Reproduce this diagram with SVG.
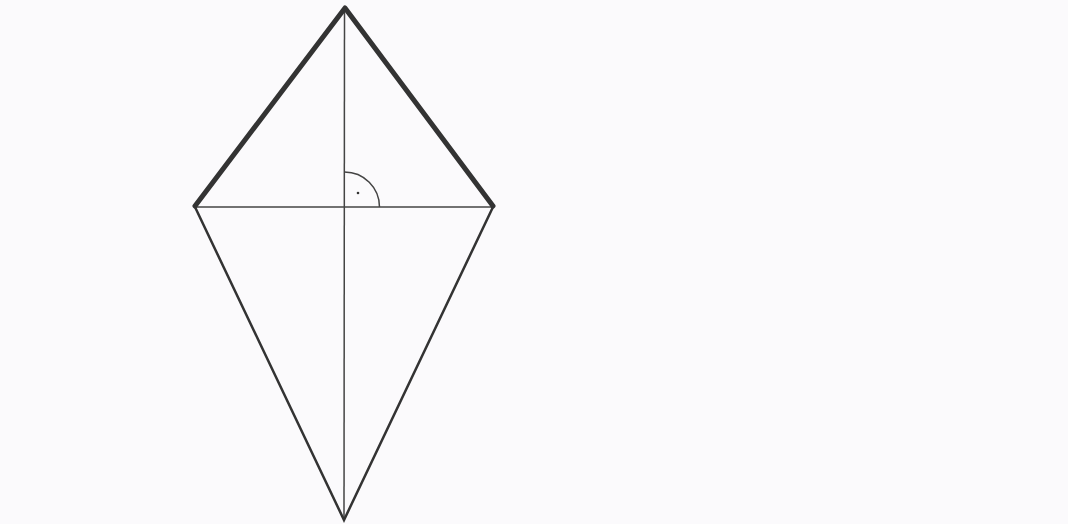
<svg xmlns="http://www.w3.org/2000/svg" width="1068" height="524" viewBox="0 0 1068 524">
<style>
.thick{stroke:#333;stroke-width:5;fill:none;stroke-linejoin:round;stroke-linecap:round}
.side{stroke:#333;stroke-width:2.5;fill:none;stroke-linecap:round}
.diag{stroke:#444;stroke-width:1.5;fill:none}
</style>
<rect width="1068" height="524" fill="#fbfafc"/>
<g id="diagonals">
<line class="diag" x1="344.5" y1="8" x2="344" y2="520"/>
<line class="diag" x1="195" y1="207" x2="493" y2="207"/>
</g>
<g id="lower-sides">
<polyline class="side" points="195,207 344,520 493,207"/>
</g>
<g id="upper-sides">
<polyline class="thick" points="195,206 345,8 493,206"/>
</g>
<g id="right-angle">
<path class="diag" d="M344.5,172 A35,35 0 0 1 379.5,207"/>
<circle cx="358" cy="193" r="1.3" fill="#333"/>
</g>
</svg>
